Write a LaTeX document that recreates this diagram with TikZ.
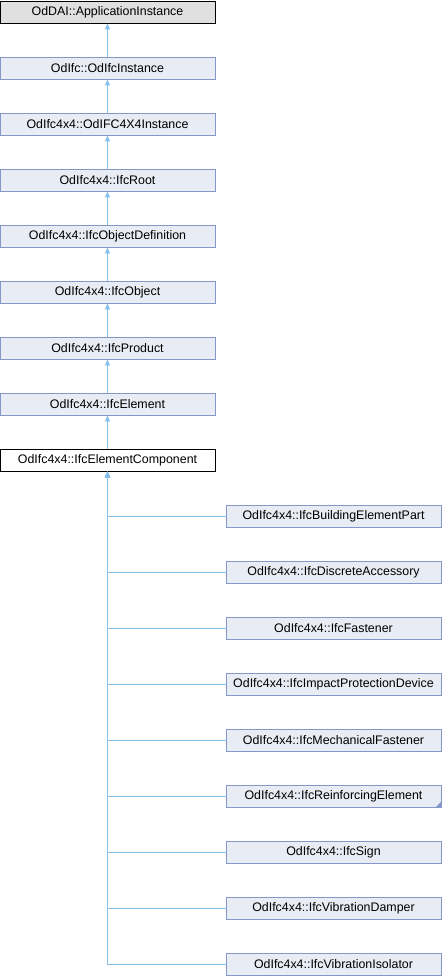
\documentclass[tikz,border=0pt]{standalone}
\usepackage{fontspec}
\setmainfont{Liberation Sans}
\usepackage{tikz}
\usetikzlibrary{arrows.meta}

\definecolor{boxfill}{HTML}{E8ECF5}
\definecolor{boxline}{HTML}{8497C8}
\definecolor{edgeblue}{HTML}{86C0EA}

\tikzset{
    cls/.style={draw=boxline, fill=boxfill, line width=0.9pt, minimum width=215pt,
        minimum height=22pt, inner sep=0pt, font=\fontsize{12.4}{14}\selectfont},
    rootcls/.style={cls, draw=black, fill=black!12},
    curcls/.style={cls, draw=black, fill=white},
    edge/.style={draw=edgeblue, line width=0.9pt, {Triangle[length=6pt,width=5pt]}-}
}

\begin{document}
\begin{tikzpicture}[x=1pt, y=-1pt]
    \useasboundingbox (0,0) rectangle (442,976);

    % --- Base classes ---
    \node[rootcls] (app)  at (107.5, 12)  {OdDAI::ApplicationInstance};
    \node[cls]     (inst) at (107.5, 68)  {OdIfc::OdIfcInstance};
    \node[cls]     (ifc4) at (107.5, 124) {OdIfc4x4::OdIFC4X4Instance};
    \node[cls]     (root) at (107.5, 180) {OdIfc4x4::IfcRoot};
    \node[cls]     (odef) at (107.5, 236) {OdIfc4x4::IfcObjectDefinition};
    \node[cls]     (obj)  at (107.5, 292) {OdIfc4x4::IfcObject};
    \node[cls]     (prod) at (107.5, 348) {OdIfc4x4::IfcProduct};
    \node[cls]     (elem) at (107.5, 404) {OdIfc4x4::IfcElement};
    \node[curcls]  (comp) at (107.5, 460) {OdIfc4x4::IfcElementComponent};

    \draw[edge] (app.south)  -- (inst.north);
    \draw[edge] (inst.south) -- (ifc4.north);
    \draw[edge] (ifc4.south) -- (root.north);
    \draw[edge] (root.south) -- (odef.north);
    \draw[edge] (odef.south) -- (obj.north);
    \draw[edge] (obj.south)  -- (prod.north);
    \draw[edge] (prod.south) -- (elem.north);
    \draw[edge] (elem.south) -- (comp.north);

    % --- Derived classes ---
    \node[cls] (part) at (333.5, 516) {OdIfc4x4::IfcBuildingElementPart};
    \node[cls] (acc)  at (333.5, 572) {OdIfc4x4::IfcDiscreteAccessory};
    \node[cls] (fast) at (333.5, 628) {OdIfc4x4::IfcFastener};
    \node[cls] (imp)  at (333.5, 684) {OdIfc4x4::IfcImpactProtectionDevice};
    \node[cls] (mech) at (333.5, 740) {OdIfc4x4::IfcMechanicalFastener};
    \node[cls] (reinf) at (333.5, 796) {OdIfc4x4::IfcReinforcingElement};
    \node[cls] (sign) at (333.5, 852) {OdIfc4x4::IfcSign};
    \node[cls] (damp) at (333.5, 908) {OdIfc4x4::IfcVibrationDamper};
    \node[cls] (iso)  at (333.5, 964) {OdIfc4x4::IfcVibrationIsolator};

    % marker: more subclasses not shown
    \fill[boxline] (reinf.south east) -- ++(0,-6) -- ++(-6,6) -- cycle;

    \draw[edge] (comp.south) |- (part.west);
    \draw[edge] (comp.south) |- (acc.west);
    \draw[edge] (comp.south) |- (fast.west);
    \draw[edge] (comp.south) |- (imp.west);
    \draw[edge] (comp.south) |- (mech.west);
    \draw[edge] (comp.south) |- (reinf.west);
    \draw[edge] (comp.south) |- (sign.west);
    \draw[edge] (comp.south) |- (damp.west);
    \draw[edge] (comp.south) |- (iso.west);
\end{tikzpicture}
\end{document}
